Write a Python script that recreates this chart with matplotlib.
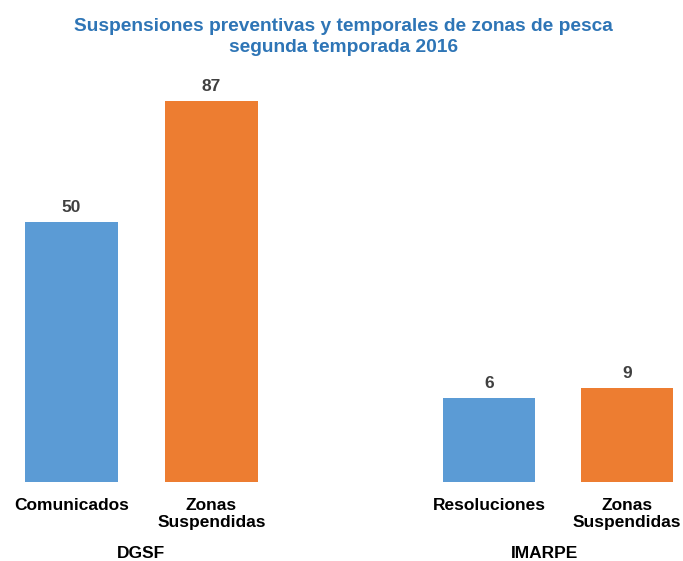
import matplotlib
matplotlib.use("Agg")
import matplotlib.pyplot as plt

plt.rcParams['font.family'] = ['Liberation Sans', 'DejaVu Sans']

title = "Suspensiones preventivas y temporales de zonas de pesca\nsegunda temporada 2016"
groups = ["DGSF", "IMARPE"]
dgsf_labels = ["Comunicados", "Zonas\nSuspendidas"]
dgsf_values = [50, 87]
imarpe_labels = ["Resoluciones", "Zonas\nSuspendidas"]
imarpe_values = [6, 9]
colors = ["#5B9BD5", "#ED7D31"]

W, H = 683, 561
fig = plt.figure(figsize=(W / 100, H / 100), dpi=100)

def px_axes(x0, x1, y_top, y_bot):
    return fig.add_axes([x0 / W, (H - y_bot) / H, (x1 - x0) / W, (y_bot - y_top) / H])

ax1 = px_axes(1.5, 281.5, 90, 481.7)
ax2 = px_axes(420, 682, 90, 481.7)

panels = [
    (ax1, dgsf_labels, dgsf_values, (-29.5, 90.3), (-0.5, 1.5)),
    (ax2, imarpe_labels, imarpe_values, (-19.2, 98.4), (-0.5, 1.398)),
]
for ax, labels, values, ylim, xlim in panels:
    lo = ylim[0]
    x = list(range(len(values)))
    ax.bar(x, [v - lo for v in values], bottom=lo, width=0.665, color=colors)
    for xi, v in zip(x, values):
        ax.annotate(f"{v}", (xi, v), xytext=(0, 5), textcoords="offset points",
                    ha="center", va="bottom", fontsize=12.5, fontweight="bold",
                    color="#404040")
    ax.set_ylim(*ylim)
    ax.set_xlim(*xlim)
    ax.set_xticks(x)
    ax.set_xticklabels(labels, fontsize=12.5, fontweight="bold", color="#000000",
                       linespacing=1.2)
    ax.tick_params(axis="x", length=0, pad=11.5)
    ax.set_yticks([])
    for s in ax.spines.values():
        s.set_visible(False)

fig.text(141.5 / W, (H - 554) / H, groups[0], ha="center", va="center",
         fontsize=12.5, fontweight="bold", color="#000000")
fig.text(545 / W, (H - 554) / H, groups[1], ha="center", va="center",
         fontsize=12.5, fontweight="bold", color="#000000")

fig.text(0.503, (H - 37) / H, title, ha="center", va="center", fontsize=13.8,
         fontweight="bold", color="#2E75B6", linespacing=1.25)

fig.savefig("out.png", dpi=100)
